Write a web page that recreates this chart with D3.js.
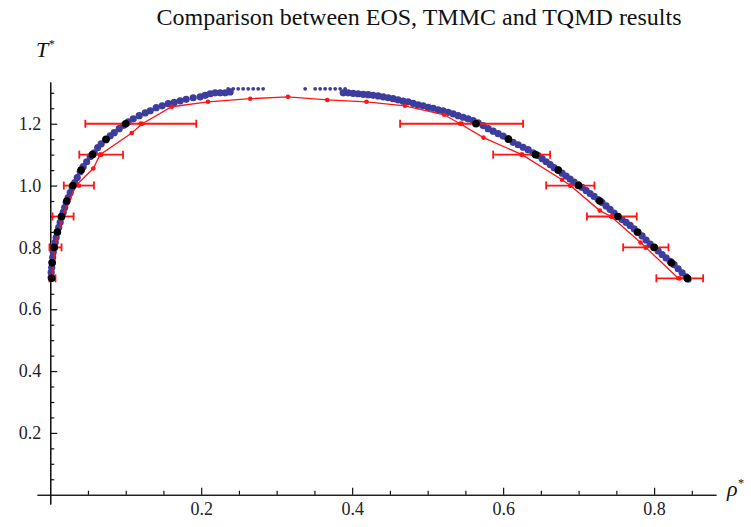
<!DOCTYPE html>
<html>
<head>
<meta charset="utf-8">
<script src="https://cdn.jsdelivr.net/npm/d3@7"></script>
<style>
  body { margin: 0; background: #fff; }
  svg { display: block; }
  text { font-family: "Liberation Serif", "DejaVu Serif", serif; fill: #111; }
</style>
</head>
<body>
<svg width="751" height="527"></svg>
<script>
// blue band: [rho*, T*]
const bluePts = [
  [0.0013,0.703],[0.0013,0.719],[0.0020,0.735],[0.0026,0.752],[0.0033,0.768],[0.0040,0.784],
  [0.0053,0.800],[0.0066,0.816],[0.0079,0.832],[0.0093,0.848],[0.0113,0.865],[0.0132,0.881],
  [0.0146,0.897],[0.0172,0.913],[0.0192,0.929],[0.0212,0.945],[0.0238,0.961],[0.0265,0.977],
  [0.0291,0.994],[0.0325,1.010],[0.0358,1.026],[0.0397,1.045],[0.0437,1.061],[0.0483,1.077],
  [0.0530,1.094],[0.0583,1.106],[0.0629,1.123],[0.0675,1.135],[0.0735,1.148],[0.0795,1.161],
  [0.0848,1.171],[0.0914,1.184],[0.0974,1.195],[0.1033,1.206],[0.1100,1.216],[0.1179,1.226],
  [0.1258,1.235],[0.1325,1.242],[0.1404,1.252],[0.1483,1.258],[0.1563,1.265],[0.1642,1.269],
  [0.1722,1.274],[0.1801,1.279],[0.1894,1.284],[0.1987,1.287],[0.2053,1.292],[0.2119,1.297],
  [0.2185,1.300],[0.2252,1.300],[0.2318,1.300],[0.2384,1.303],
  [0.3881,1.300],[0.3947,1.300],[0.4013,1.298],[0.4079,1.297],[0.4146,1.295],[0.4212,1.294],
  [0.4278,1.292],[0.4344,1.290],[0.4411,1.287],[0.4477,1.284],[0.4543,1.281],[0.4609,1.277],
  [0.4675,1.273],[0.4742,1.271],[0.4808,1.266],[0.4874,1.261],[0.4940,1.258],[0.5007,1.253],
  [0.5073,1.250],[0.5139,1.245],[0.5205,1.242],[0.5272,1.237],[0.5338,1.232],[0.5404,1.226],
  [0.5470,1.221],[0.5536,1.216],[0.5603,1.210],[0.5669,1.203],[0.5735,1.194],[0.5801,1.184],
  [0.5868,1.176],[0.5934,1.168],[0.6000,1.160],[0.6066,1.152],[0.6132,1.140],[0.6199,1.132],
  [0.6265,1.124],[0.6331,1.116],[0.6397,1.106],[0.6464,1.097],[0.6517,1.087],[0.6570,1.077],
  [0.6623,1.068],[0.6675,1.058],[0.6728,1.050],[0.6781,1.040],[0.6834,1.031],[0.6887,1.021],
  [0.6940,1.011],[0.6993,1.003],[0.7046,0.994],[0.7099,0.984],[0.7152,0.974],[0.7205,0.965],
  [0.7258,0.955],[0.7311,0.945],[0.7364,0.934],[0.7417,0.923],[0.7470,0.911],[0.7523,0.900],
  [0.7576,0.890],[0.7629,0.881],[0.7682,0.871],[0.7735,0.860],[0.7788,0.848],[0.7841,0.837],
  [0.7894,0.824],[0.7947,0.811],[0.8000,0.800],[0.8053,0.789],[0.8106,0.777],[0.8159,0.766],
  [0.8212,0.755],[0.8265,0.744],[0.8318,0.731],[0.8371,0.718],[0.8424,0.705],[0.8450,0.697]
];
// sparse blue points along the top
const blueTopRho = [0.2358,0.2424,0.2490,0.2556,0.2623,0.2689,0.2755,0.2821,
                    0.3377,0.3510,0.3576,0.3642,0.3709,0.3775,0.3841,0.3907];
const blueTopT = 1.313;

// black points
const blackPts = [
  [0.0020,0.70],[0.0026,0.75],[0.0053,0.80],[0.0095,0.85],[0.0150,0.90],[0.0220,0.95],
  [0.0300,1.00],[0.0410,1.05],[0.0560,1.10],[0.0740,1.15],[0.1000,1.20],
  [0.564,1.20],[0.607,1.15],[0.643,1.10],[0.673,1.05],[0.700,1.00],[0.728,0.95],
  [0.752,0.90],[0.778,0.85],[0.800,0.80],[0.823,0.75],[0.844,0.70]
];

// red joined curve
const redLinePts = [
  [0.003,0.70],[0.006,0.80],[0.016,0.90],[0.034,1.00],[0.057,1.055],[0.066,1.10],
  [0.108,1.17],[0.122,1.20],[0.161,1.255],[0.209,1.271],[0.265,1.281],[0.315,1.287],
  [0.367,1.277],[0.419,1.271],[0.470,1.258],[0.522,1.229],[0.543,1.20],[0.574,1.155],
  [0.625,1.10],[0.678,1.019],[0.689,1.00],[0.728,0.919],[0.743,0.90],[0.782,0.816],
  [0.789,0.80],[0.832,0.70]
];

// red error bars: centre rho*, T*, half width
const errRho  = [0.003, 0.007, 0.017, 0.038, 0.0675, 0.120, 0.545, 0.6245, 0.689, 0.744, 0.789, 0.834];
const errT    = [0.70, 0.80, 0.90, 1.00, 1.10, 1.20, 1.20, 1.10, 1.00, 0.90, 0.80, 0.70];
const errHalf = [0.004, 0.008, 0.014, 0.020, 0.029, 0.0735, 0.0815, 0.0377, 0.032, 0.033, 0.030, 0.031];

const xMajor = [0.2, 0.4, 0.6, 0.8];
const xMinor = [0.05,0.1,0.15,0.25,0.3,0.35,0.45,0.5,0.55,0.65,0.7,0.75,0.85];
const yMajor = [0.2, 0.4, 0.6, 0.8, 1.0, 1.2];
const yMinor = [0.05,0.1,0.15,0.25,0.3,0.35,0.45,0.5,0.55,0.65,0.7,0.75,0.85,0.9,0.95,1.05,1.1,1.15,1.25,1.3];

const svg = d3.select("svg");

const x = d3.scaleLinear().domain([-0.0175, 0.882]).range([37, 716]);
const y = d3.scaleLinear().domain([-0.03, 1.335]).range([504, 82]);

// title and axis labels
svg.append("text")
  .attr("x", 419).attr("y", 25)
  .attr("text-anchor", "middle")
  .attr("font-size", 24)
  .text("Comparison between EOS, TMMC and TQMD results");

const tLab = svg.append("text")
  .attr("x", 36).attr("y", 57)
  .attr("font-size", 22)
  .attr("font-style", "italic");
tLab.append("tspan").text("T");
tLab.append("tspan").attr("font-size", 12).attr("dy", -9).text("*");

const rLab = svg.append("text")
  .attr("x", 727).attr("y", 496)
  .attr("font-size", 22)
  .attr("font-style", "italic");
rLab.append("tspan").text("ρ");
rLab.append("tspan").attr("font-size", 12).attr("dy", -9).text("*");

// axes, ticks pointing inward
function styleAxis(g) {
  g.attr("font-family", "Liberation Serif").attr("font-size", 18);
  g.selectAll("path, line").attr("stroke", "#111").attr("stroke-width", 1.2);
  g.selectAll("text")
    .attr("font-family", "Liberation Serif")
    .attr("font-size", 18)
    .style("font-size", "18px")
    .style("fill", "#222");
}

svg.append("g")
  .attr("transform", `translate(0,${y(0)})`)
  .call(d3.axisBottom(x).tickValues(xMinor).tickSize(-4).tickSizeOuter(0).tickFormat(""))
  .call(styleAxis);
svg.append("g")
  .attr("transform", `translate(0,${y(0)})`)
  .call(d3.axisBottom(x).tickValues(xMajor).tickSize(-7).tickSizeOuter(0).tickPadding(8).tickFormat(d3.format(".1f")))
  .call(styleAxis);

svg.append("g")
  .attr("transform", `translate(${x(0)},0)`)
  .call(d3.axisLeft(y).tickValues(yMinor).tickSize(-4).tickSizeOuter(0).tickFormat(""))
  .call(styleAxis);
svg.append("g")
  .attr("transform", `translate(${x(0)},0)`)
  .call(d3.axisLeft(y).tickValues(yMajor).tickSize(-7).tickSizeOuter(0).tickPadding(9).tickFormat(d3.format(".1f")))
  .call(styleAxis);

// blue points
const blue = "#3d3d9e";
svg.append("g")
  .selectAll("circle")
  .data(bluePts)
  .enter().append("circle")
  .attr("cx", d => x(d[0]))
  .attr("cy", d => y(d[1]))
  .attr("r", 3.6)
  .attr("fill", blue);

svg.append("g")
  .selectAll("circle")
  .data(blueTopRho)
  .enter().append("circle")
  .attr("cx", d => x(d))
  .attr("cy", y(blueTopT))
  .attr("r", 1.9)
  .attr("fill", blue);

// red curve
const red = "#ff1414";
svg.append("path")
  .datum(redLinePts)
  .attr("fill", "none")
  .attr("stroke", red)
  .attr("stroke-width", 1.3)
  .attr("d", d3.line().x(d => x(d[0])).y(d => y(d[1])));

svg.append("g")
  .selectAll("circle")
  .data(redLinePts)
  .enter().append("circle")
  .attr("cx", d => x(d[0]))
  .attr("cy", d => y(d[1]))
  .attr("r", 2.3)
  .attr("fill", red);

// error bars
const bars = svg.append("g")
  .attr("stroke", red)
  .attr("stroke-width", 1.8)
  .selectAll("g")
  .data(errRho.map((r, i) => ({ r: r, t: errT[i], e: errHalf[i] })))
  .enter().append("g");

bars.append("line")
  .attr("x1", d => x(d.r - d.e)).attr("x2", d => x(d.r + d.e))
  .attr("y1", d => y(d.t)).attr("y2", d => y(d.t));
bars.append("line")
  .attr("x1", d => x(d.r - d.e)).attr("x2", d => x(d.r - d.e))
  .attr("y1", d => y(d.t) - 4).attr("y2", d => y(d.t) + 4);
bars.append("line")
  .attr("x1", d => x(d.r + d.e)).attr("x2", d => x(d.r + d.e))
  .attr("y1", d => y(d.t) - 4).attr("y2", d => y(d.t) + 4);
bars.append("circle")
  .attr("cx", d => x(d.r)).attr("cy", d => y(d.t))
  .attr("r", 2.4).attr("fill", red).attr("stroke", "none");

// black points on top
svg.append("g")
  .selectAll("circle")
  .data(blackPts)
  .enter().append("circle")
  .attr("cx", d => x(d[0]))
  .attr("cy", d => y(d[1]))
  .attr("r", 3.8)
  .attr("fill", "#000");
</script>
</body>
</html>
